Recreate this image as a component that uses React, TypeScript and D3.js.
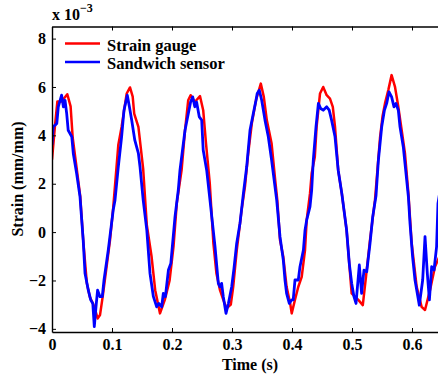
import { useEffect, useRef } from "react";
import * as d3 from "d3";

const width = 438;
const height = 377;
const margin = { top: 26.5, right: -4, bottom: 45, left: 52 };

// strain gauge (red), time in s, strain in 1e-3 mm/mm
const gaugeTime = [
  0, 0.005, 0.009, 0.016, 0.0255, 0.031, 0.0345, 0.04, 0.047, 0.052, 0.058, 0.063, 0.0705, 0.076, 0.08,
  0.0845, 0.091, 0.0967, 0.102, 0.1105, 0.116, 0.1245, 0.13, 0.1345, 0.137, 0.144, 0.152, 0.158, 0.166,
  0.172, 0.18, 0.188, 0.196, 0.2025, 0.208, 0.216, 0.2217, 0.227, 0.231, 0.238, 0.2467, 0.252, 0.2567,
  0.263, 0.269, 0.274, 0.28, 0.2855, 0.291, 0.298, 0.302, 0.308, 0.316, 0.3217, 0.327, 0.333, 0.34,
  0.348, 0.353, 0.358, 0.366, 0.372, 0.3755, 0.38, 0.3855, 0.391, 0.397, 0.3995, 0.405, 0.4105, 0.4162,
  0.4217, 0.4245, 0.43, 0.4328, 0.438, 0.441, 0.4467, 0.452, 0.4578, 0.4633, 0.468, 0.4717, 0.477,
  0.483, 0.491, 0.4967, 0.4994, 0.505, 0.5105, 0.518, 0.5233, 0.53, 0.5355, 0.5383, 0.5425, 0.5467,
  0.551, 0.555, 0.5605, 0.566, 0.5717, 0.5772, 0.5828, 0.5883, 0.594, 0.5995, 0.6078, 0.616, 0.6217,
  0.63, 0.6383, 0.646,
];
const gaugeStrain = [
  3.0, 4.4, 5.4, 5.4, 5.7, 5.2, 3.9, 2.85, 1.5, -0.33, -2.1, -2.67, -3.09, -3.57, -3.43,
  -2.67, -1.43, -0.33, 1.0, 3.6, 4.35, 5.73, 5.98, 5.6, 4.9, 4.35, 2.6, 0.3, -1.02,
  -2.4, -3.36, -2.8, -2.0, -0.6, 1.2, 2.56, 4.2, 5.45, 5.66, 5.38, 5.62, 5.04, 3.66,
  2.0, -0.47, -1.7, -2.4, -2.8, -3.15, -3.0, -2.26, -0.74, 0.91, 1.9, 3.25, 4.49, 5.45,
  6.14, 5.59, 4.63, 3.66, 2.15, 1.32, -0.33, -1.02, -2.26, -2.95, -3.36, -2.8, -2.26, -1.85,
  -0.74, 0.5, 1.6, 2.43, 3.1, 4.35, 5.73, 6.0, 5.66, 5.52, 5.18, 4.35, 2.56,
  1.6, 0.08, -1.7, -2.53, -2.67, -2.8, -3.02, -1.85, -0.33, 0.77, 1.32, 2.6, 3.9,
  4.8, 5.32, 5.87, 6.49, 6.0, 5.18, 4.21, 3.25, 1.6, -0.47, -2.26, -3.09, -3.22,
  -2.4, -1.43, -1.0,
];

// sandwich sensor (blue)
const sensorTime = [
  0, 0.002, 0.008, 0.0105, 0.016, 0.019, 0.0217, 0.0245, 0.027, 0.033, 0.0355, 0.041, 0.0467, 0.052,
  0.055, 0.0605, 0.0645, 0.068, 0.0705, 0.0733, 0.076, 0.08, 0.0838, 0.0867, 0.0938, 0.102, 0.105,
  0.1105, 0.116, 0.12, 0.1255, 0.129, 0.1328, 0.138, 0.144, 0.1467, 0.152, 0.158, 0.1633, 0.169,
  0.1745, 0.178, 0.1828, 0.1855, 0.189, 0.194, 0.198, 0.205, 0.2105, 0.2133, 0.2217, 0.2272, 0.231,
  0.2345, 0.238, 0.241, 0.2455, 0.2495, 0.252, 0.2578, 0.2633, 0.2717, 0.2772, 0.28, 0.2827, 0.2855,
  0.29, 0.294, 0.2995, 0.3033, 0.3078, 0.3133, 0.319, 0.3245, 0.33, 0.3355, 0.34, 0.342, 0.3455,
  0.3495, 0.355, 0.3605, 0.366, 0.3745, 0.38, 0.3855, 0.3883, 0.391, 0.3955, 0.3995, 0.402, 0.405,
  0.4105, 0.4133, 0.419, 0.4217, 0.4245, 0.43, 0.4328, 0.4355, 0.44, 0.444, 0.4478, 0.452, 0.4578,
  0.462, 0.466, 0.4717, 0.477, 0.483, 0.491, 0.4955, 0.4995, 0.5033, 0.5067, 0.5122, 0.516, 0.52,
  0.5245, 0.53, 0.5345, 0.54, 0.544, 0.5495, 0.554, 0.5578, 0.5617, 0.566, 0.57, 0.5733, 0.5772, 0.58,
  0.5855, 0.5883, 0.594, 0.5967, 0.601, 0.605, 0.6122, 0.6178, 0.6217, 0.6255, 0.629, 0.6328, 0.6367,
  0.641, 0.6433, 0.646,
];
const sensorStrain = [
  3.6, 4.35, 4.49, 5.18, 5.66, 5.18, 5.45, 4.9, 4.21, 3.94, 3.25, 2.43, 1.46, -0.33,
  -1.7, -2.4, -2.8, -2.95, -3.91, -3.09, -2.4, -2.67, -2.67, -1.98, -0.74, 0.91, 1.32,
  2.7, 3.94, 5.04, 5.66, 5.18, 4.63, 3.8, 3.25, 2.7, 1.32, 0.08, -1.7, -2.67,
  -3.09, -2.95, -3.09, -2.53, -2.67, -1.57, -1.3, 0.63, 1.74, 2.56, 4.21, 4.9, 5.38,
  5.59, 5.18, 5.38, 4.76, 4.63, 3.39, 2.56, 1.32, -0.6, -2.12, -2.26, -2.12, -2.67,
  -3.36, -2.95, -2.26, -1.5, -0.47, 0.36, 1.6, 2.7, 4.21, 4.9, 5.45, 5.73, 5.87,
  5.45, 4.63, 3.94, 2.98, 1.32, -0.19, -1.16, -1.98, -2.53, -2.95, -2.8, -2.8, -1.98,
  -1.98, -1.43, -0.74, 0.08, 0.5, 1.05, 1.74, 2.98, 4.35, 5.32, 5.11, 5.04, 5.18,
  5.04, 4.63, 3.94, 2.56, 1.6, 0.08, -1.3, -2.12, -2.67, -2.95, -1.36, -2.53, -1.57,
  -1.64, -0.47, 0.63, 1.5, 2.98, 4.35, 5.04, 5.32, 5.8, 5.59, 5.18, 5.32, 5.04, 4.35,
  3.52, 2.84, 1.46, 0.36, -1.02, -1.98, -3.02, -1.98, -0.19, -1.7, -2.8, -1.43, -1.57,
  -0.6, 1.18, 1.6,
];

const xTicks = [0, 0.1, 0.2, 0.3, 0.4, 0.5, 0.6];
const yTicks = [-4, -2, 0, 2, 4, 6, 8];
const xDomain = [0, 0.65];
const yDomain = [-4.13, 8.5];

const seriesNames = ["Strain gauge", "Sandwich sensor"];
const seriesColors = ["#ff0000", "#0000ff"];

const font = "'Liberation Serif', 'Times New Roman', serif";
const fontSize = "16px";

export default function App() {
  const svgRef = useRef<SVGSVGElement | null>(null);

  useEffect(() => {
    if (!svgRef.current) return;
    const svg = d3.select(svgRef.current);

    const x = d3.scaleLinear().domain(xDomain).range([margin.left, width - margin.right]);
    const y = d3.scaleLinear().domain(yDomain).range([height - margin.bottom, margin.top]);

    const series = [
      gaugeTime.map((t, i) => [t, gaugeStrain[i]] as [number, number]),
      sensorTime.map((t, i) => [t, sensorStrain[i]] as [number, number]),
    ];

    svg
      .select(".clip rect")
      .attr("x", margin.left)
      .attr("y", margin.top)
      .attr("width", width - margin.right - margin.left)
      .attr("height", height - margin.bottom - margin.top);

    const line = d3
      .line<[number, number]>()
      .x((d) => x(d[0]))
      .y((d) => y(d[1]));

    svg
      .select(".lines")
      .selectAll("path")
      .data(series)
      .join("path")
      .attr("fill", "none")
      .attr("stroke", (_, i) => seriesColors[i])
      .attr("stroke-width", (_, i) => (i === 0 ? 2.5 : 2.8))
      .attr("stroke-linejoin", "round")
      .attr("d", (d) => line(d));

    // axes, ticks inside like matlab
    const styleAxis = (g: d3.Selection<SVGGElement, unknown, null, undefined>) => {
      g.select(".domain").attr("stroke", "#000").attr("stroke-width", 1.4);
      g.selectAll(".tick line").attr("stroke", "#000").attr("stroke-width", 1);
      g.selectAll("text")
        .attr("fill", "#000")
        .style("font-family", font)
        .style("font-weight", "700")
        .style("font-size", fontSize);
    };

    svg
      .select<SVGGElement>(".x-axis")
      .attr("transform", `translate(0, ${height - margin.bottom})`)
      .call(
        d3
          .axisBottom(x)
          .tickValues(xTicks)
          .tickSizeInner(-4)
          .tickSizeOuter(0)
          .tickPadding(7)
          .tickFormat((d) => (d === 0 ? "0" : d3.format(".1f")(d as number))),
      )
      .call(styleAxis);

    svg
      .select<SVGGElement>(".x-axis-top")
      .attr("transform", `translate(0, ${margin.top})`)
      .call(d3.axisTop(x).tickValues(xTicks).tickSizeInner(-4).tickSizeOuter(0).tickFormat(() => ""))
      .call(styleAxis);

    svg
      .select<SVGGElement>(".y-axis")
      .attr("transform", `translate(${margin.left}, 0)`)
      .call(
        d3
          .axisLeft(y)
          .tickValues(yTicks)
          .tickSizeInner(-4)
          .tickSizeOuter(0)
          .tickPadding(6)
          .tickFormat(d3.format("d")),
      )
      .call(styleAxis);

    // legend
    const legend = svg
      .select(".legend")
      .selectAll("g")
      .data(seriesNames)
      .join("g")
      .attr("transform", (_, i) => `translate(65, ${43.5 + i * 18.5})`);

    legend
      .selectAll("line")
      .data((_, i) => [i])
      .join("line")
      .attr("x1", 0)
      .attr("x2", 35)
      .attr("stroke", (i) => seriesColors[i])
      .attr("stroke-width", 2.6);

    legend
      .selectAll("text")
      .data((d) => [d])
      .join("text")
      .attr("x", 42)
      .attr("y", 7)
      .attr("fill", "#000")
      .style("font-family", font)
      .style("font-weight", "700")
      .style("font-size", "16.5px")
      .text((d) => d);
  }, []);

  const textStyle = { fontFamily: font, fontWeight: 700, fontSize };

  return (
    <svg
      ref={svgRef}
      width={width}
      height={height}
      style={{ position: "absolute", left: 0, top: 0, background: "#fff" }}
    >
      <defs>
        <clipPath id="plot-clip" className="clip">
          <rect />
        </clipPath>
      </defs>
      <g className="lines" clipPath="url(#plot-clip)" />
      <g className="x-axis" />
      <g className="x-axis-top" />
      <g className="y-axis" />
      <g className="legend" />
      <text x={52} y={20} style={textStyle}>
        x 10
        <tspan dy={-8} style={{ fontSize: "12px" }}>
          −3
        </tspan>
      </text>
      <text x={250} y={369.5} textAnchor="middle" style={textStyle}>
        Time (s)
      </text>
      <text
        transform="rotate(-90)"
        x={-179}
        y={23}
        textAnchor="middle"
        style={textStyle}
      >
        Strain (mm/mm)
      </text>
    </svg>
  );
}
